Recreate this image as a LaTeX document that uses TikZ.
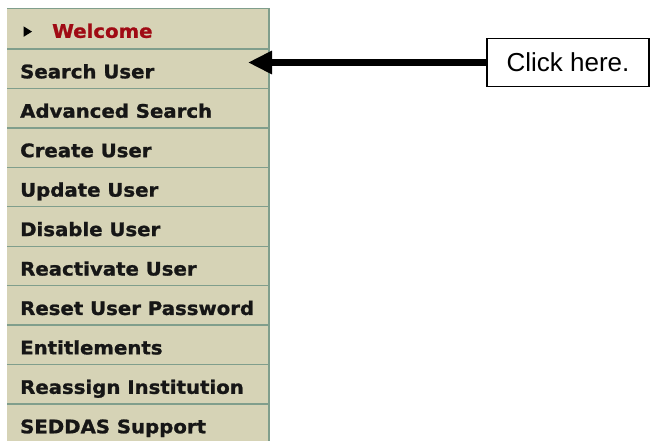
\documentclass[tikz,border=0pt]{standalone}
\usepackage{fontspec}
\setmainfont{Liberation Sans}
\newfontfamily\menufont{DejaVu Sans}[FakeStretch=1.06,BoldFeatures={FakeBold=1.2}]
\usetikzlibrary{arrows.meta}
\definecolor{panelbg}{RGB}{214,211,182}
\definecolor{panelline}{RGB}{128,158,140}
\definecolor{menutext}{RGB}{22,22,22}
\definecolor{welcomered}{RGB}{160,10,20}
\tikzset{
  menuitem/.style={anchor=base west, inner sep=0pt, text=menutext, font=\menufont\bfseries\fontsize{18.6}{20}\selectfont},
  sepline/.style={draw=panelline, line width=1.4pt},
  callout/.style={draw=black, line width=1.3pt, fill=white, minimum width=162pt, minimum height=48.4pt, inner sep=0pt, font=\fontsize{26}{30}\selectfont},
  bigarrow/.style={line width=7pt, -{Triangle[length=24pt,width=22pt]}}
}
\begin{document}
\begin{tikzpicture}[x=1pt,y=-1pt]
\useasboundingbox (0,0) rectangle (650,441);
% panel background
\fill[panelbg] (7,8.5) rectangle (269,441);
\draw[sepline] (269,8.5) -- (269,441);
\draw[sepline] (7,8.5) -- (269,8.5);
\foreach \k in {1,...,10} {
  \draw[sepline] (7,{49+39.44*(\k-1)}) -- (269,{49+39.44*(\k-1)});
}
% welcome row
\fill[black] (23.5,26.3) -- (32,31.6) -- (23.5,36.9) -- cycle;
\node[menuitem, text=welcomered] (r1) at (52,37.8) {Welcome};
% other rows
\foreach \name/\k [count=\i from 2] in {Search User/1, Advanced Search/2, Create User/3, Update User/4, Disable User/5, Reactivate User/6, Reset User Password/7, Entitlements/8, Reassign Institution/9, SEDDAS Support/10} {
  \node[menuitem] (r\i) at (20,{49+39.44*(\k-1)+29.3}) {\name};
}
% callout
\node[callout] (click) at (568,62.5) {Click here.};
\coordinate (tip) at (248,62.5);
\draw[bigarrow] (click.west) -- (tip);
\end{tikzpicture}
\end{document}
